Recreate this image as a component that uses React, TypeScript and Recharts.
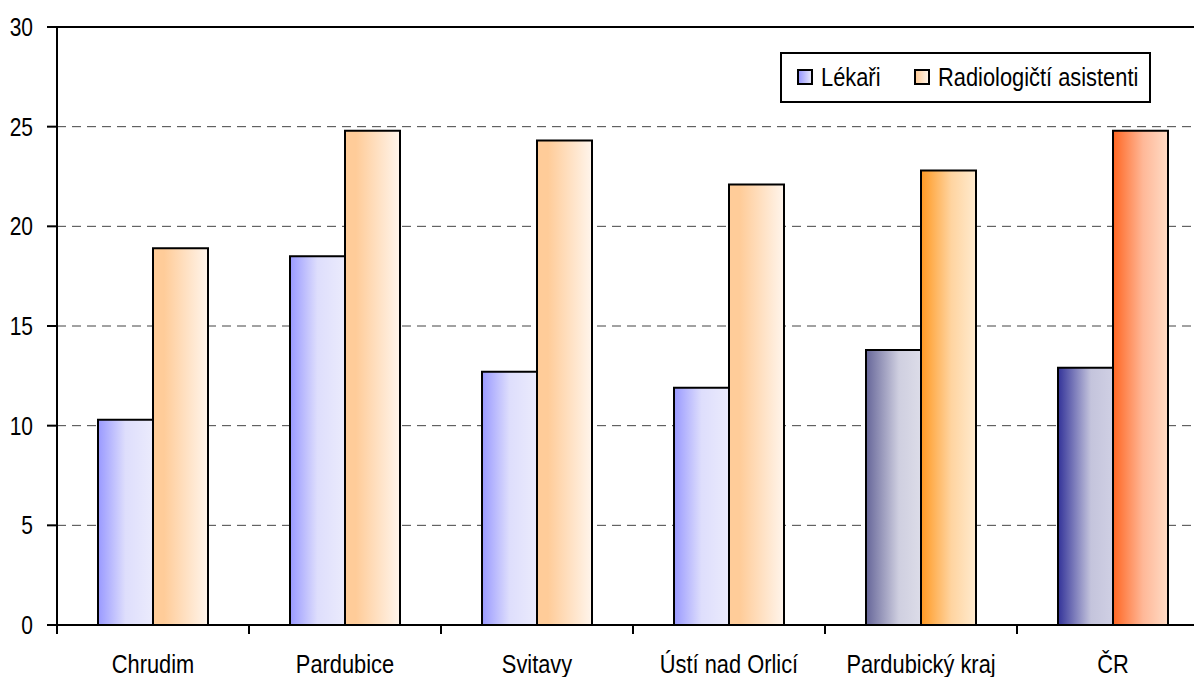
import React from 'react';
import { BarChart, Bar, XAxis, YAxis, CartesianGrid, ReferenceLine, Cell } from 'recharts';

const categories = ['Chrudim', 'Pardubice', 'Svitavy', 'Ústí nad Orlicí', 'Pardubický kraj', 'ČR'];
const lekari = [10.3, 18.5, 12.7, 11.9, 13.8, 12.9];
const asistenti = [18.9, 24.8, 24.3, 22.1, 22.8, 24.8];
const yTicks = [0, 5, 10, 15, 20, 25, 30];

const seriesNames = ['Lékaři', 'Radiologičtí asistenti'];

const data = categories.map((name, i) => ({ name, lekari: lekari[i], asistenti: asistenti[i] }));

const FONT = "'Liberation Sans', Arial, sans-serif";
const SQUEEZE = 0.84; // narrow look of the original font

// gradient id per category: districts, region, country
const lekariFill = (i: number) => (i === 4 ? 'url(#gKrajL)' : i === 5 ? 'url(#gCrL)' : 'url(#gL)');
const asistFill = (i: number) => (i === 4 ? 'url(#gKrajR)' : i === 5 ? 'url(#gCrR)' : 'url(#gR)');

const CategoryTick = (props: any) => {
  const { x, y, payload } = props;
  const half = payload?.offset ?? 96;
  return (
    <g>
      <line x1={x - half} y1={y} x2={x - half} y2={y + 9} stroke="#000" strokeWidth={2} />
      <text transform={`translate(${x} ${y + 48}) scale(${SQUEEZE} 1)`} textAnchor="middle" fill="#000" fontSize={26} fontFamily={FONT}>
        {payload.value}
      </text>
    </g>
  );
};

const ValueTick = (props: any) => {
  const { x, y, payload } = props;
  return (
    <text transform={`translate(${x} ${y + 9}) scale(${SQUEEZE} 1)`} textAnchor="end" fill="#000" fontSize={25} fontFamily={FONT}>
      {payload.value}
    </text>
  );
};

const squeezed: React.CSSProperties = {
  position: 'absolute',
  top: 8,
  display: 'inline-block',
  transform: `scaleX(${SQUEEZE})`,
  transformOrigin: 'left center',
  whiteSpace: 'nowrap',
  lineHeight: '30px',
};

const swatch: React.CSSProperties = {
  position: 'absolute',
  top: 15,
  width: 12,
  height: 12,
  border: '2px solid #000',
};

const LegendBox = () => (
  <div
    style={{
      position: 'absolute',
      left: 780,
      top: 52,
      width: 367,
      height: 47,
      border: '2px solid #000',
      background: '#fff',
      fontFamily: FONT,
      fontSize: 26,
      color: '#000',
    }}
  >
    <span style={{ ...swatch, left: 15, background: 'linear-gradient(to right, #9999ff, #e6e6fa)' }} />
    <span style={{ ...squeezed, left: 39 }}>{seriesNames[0]}</span>
    <span style={{ ...swatch, left: 132, background: 'linear-gradient(to right, #ffcc99, #fff3e6)' }} />
    <span style={{ ...squeezed, left: 156 }}>{seriesNames[1]}</span>
  </div>
);

export default function App() {
  return (
    <div style={{ position: 'absolute', left: 0, top: 0, width: 1194, height: 677, overflow: 'hidden', background: '#fff' }}>
      <BarChart
        width={1230}
        height={677}
        data={data}
        margin={{ top: 27, right: 21, bottom: 0, left: 0 }}
        barCategoryGap={41}
        barGap={0}
      >
        <defs>
          <linearGradient id="gL" x1="0" y1="0" x2="1" y2="0">
            <stop offset="0%" stopColor="#9999ff" />
            <stop offset="50%" stopColor="#dedefc" />
            <stop offset="100%" stopColor="#ebebfc" />
          </linearGradient>
          <linearGradient id="gR" x1="0" y1="0" x2="1" y2="0">
            <stop offset="0%" stopColor="#ffcc99" />
            <stop offset="20%" stopColor="#ffcc99" />
            <stop offset="100%" stopColor="#fff5ec" />
          </linearGradient>
          <linearGradient id="gKrajL" x1="0" y1="0" x2="1" y2="0">
            <stop offset="0%" stopColor="#666699" />
            <stop offset="60%" stopColor="#cfcfe0" />
            <stop offset="100%" stopColor="#dcdce8" />
          </linearGradient>
          <linearGradient id="gKrajR" x1="0" y1="0" x2="1" y2="0">
            <stop offset="0%" stopColor="#ff9922" />
            <stop offset="55%" stopColor="#ffd4a0" />
            <stop offset="100%" stopColor="#ffebcf" />
          </linearGradient>
          <linearGradient id="gCrL" x1="0" y1="0" x2="1" y2="0">
            <stop offset="0%" stopColor="#333399" />
            <stop offset="60%" stopColor="#c4c4dc" />
            <stop offset="100%" stopColor="#d0d0e4" />
          </linearGradient>
          <linearGradient id="gCrR" x1="0" y1="0" x2="1" y2="0">
            <stop offset="0%" stopColor="#ff6622" />
            <stop offset="55%" stopColor="#ffb898" />
            <stop offset="100%" stopColor="#ffdcc6" />
          </linearGradient>
        </defs>
        <CartesianGrid vertical={false} stroke="#444" strokeDasharray="9 6" strokeWidth={1} />
        <XAxis
          dataKey="name"
          axisLine={{ stroke: '#000', strokeWidth: 2 }}
          tickLine={false}
          tickSize={0}
          tickMargin={0}
          height={52}
          interval={0}
          tick={<CategoryTick />}
        />
        <YAxis
          width={57}
          domain={[0, 30]}
          ticks={yTicks}
          interval={0}
          axisLine={{ stroke: '#000', strokeWidth: 2 }}
          tickLine={{ stroke: '#000', strokeWidth: 2 }}
          tickSize={10}
          tickMargin={14}
          tick={<ValueTick />}
        />
        <ReferenceLine y={30} stroke="#000" strokeWidth={2} />
        <Bar dataKey="lekari" name={seriesNames[0]} stroke="#000" strokeWidth={2} isAnimationActive={false}>
          {data.map((_, i) => (
            <Cell key={i} fill={lekariFill(i)} />
          ))}
        </Bar>
        <Bar dataKey="asistenti" name={seriesNames[1]} stroke="#000" strokeWidth={2} isAnimationActive={false}>
          {data.map((_, i) => (
            <Cell key={i} fill={asistFill(i)} />
          ))}
        </Bar>
      </BarChart>
      <LegendBox />
    </div>
  );
}
